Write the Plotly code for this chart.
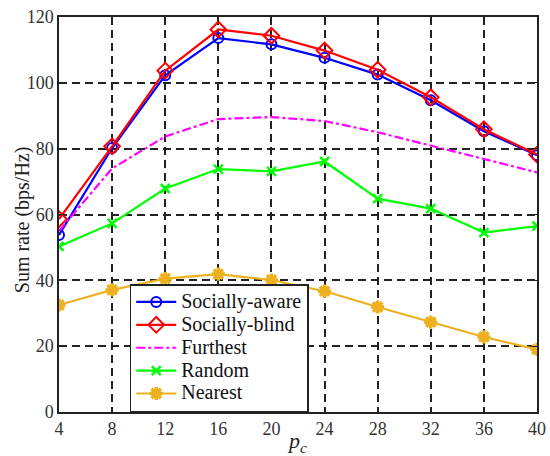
import plotly.graph_objects as go

pc = [4, 8, 12, 16, 20, 24, 28, 32, 36, 40]
socially_aware = [53.8, 80.2, 102.3, 113.6, 111.7, 107.6, 102.5, 94.7, 85.3, 78.0]
socially_blind = [58.6, 80.7, 103.7, 116.2, 114.3, 109.8, 104.0, 95.6, 85.9, 78.2]
furthest = [55.0, 74.0, 83.7, 89.0, 89.6, 88.4, 85.0, 81.0, 77.0, 72.8]
random_ = [50.3, 57.3, 67.9, 73.8, 73.1, 76.1, 64.8, 61.8, 54.5, 56.5]
nearest = [32.5, 37.1, 40.5, 41.9, 40.1, 36.7, 31.9, 27.3, 22.8, 19.0]

xticks = [4, 8, 12, 16, 20, 24, 28, 32, 36, 40]
yticks = [0, 20, 40, 60, 80, 100, 120]

font = "Times New Roman, Liberation Serif, DejaVu Serif, serif"


def lg(name):
    return "<span style='font-size:20px'>" + name + "</span>"


fig = go.Figure()
fig.add_trace(go.Scatter(x=pc, y=socially_aware, name=lg("Socially-aware"), mode="lines+markers",
                         line=dict(color="#0000FF", width=2.2),
                         marker=dict(symbol="circle-open", size=10, line=dict(width=2, color="#0000FF"))))
fig.add_trace(go.Scatter(x=pc, y=socially_blind, name=lg("Socially-blind"), mode="lines+markers",
                         line=dict(color="#FF0000", width=2.2),
                         marker=dict(symbol="diamond-open", size=12, line=dict(width=2, color="#FF0000"))))
fig.add_trace(go.Scatter(x=pc, y=furthest, name=lg("Furthest"), mode="lines",
                         line=dict(color="#FF00FF", width=2.2, dash="dashdot")))
fig.add_trace(go.Scatter(x=pc, y=random_, name=lg("Random"), mode="lines+markers",
                         line=dict(color="#00FF00", width=2.2),
                         marker=dict(symbol="x-thin-open", size=9, line=dict(width=2.5, color="#00FF00"))))
fig.add_trace(go.Scatter(x=pc, y=nearest, name=lg("Nearest"), mode="lines+markers",
                         line=dict(color="#EDB120", width=2.2),
                         marker=dict(symbol="asterisk-open", size=11, line=dict(width=3.5, color="#EDB120"))))

axis_common = dict(showline=True, mirror="ticks", linecolor="#222222", linewidth=1.5,
                   showgrid=True, gridcolor="#222222", griddash="8px,5px", gridwidth=1.5,
                   ticks="inside", ticklen=5, tickcolor="#222222", zeroline=False,
                   automargin=False,
                   tickfont=dict(family=font, size=18, color="#333333"))

fig.update_xaxes(range=[4, 40], tickvals=xticks, **axis_common,
                 title=dict(text="<i>p</i><sub><i>c</i></sub>", font=dict(family=font, size=22, color="#222222"), standoff=0))
fig.update_yaxes(range=[0, 120], tickvals=yticks, **axis_common)

fig.add_annotation(text="Sum rate (bps/Hz)", textangle=-90, showarrow=False,
                   xref="paper", yref="paper", x=-0.077, y=0.486,
                   xanchor="center", yanchor="middle",
                   font=dict(family=font, size=20, color="#222222"))

fig.update_layout(
    width=550, height=456,
    margin=dict(l=59, r=13, t=17, b=44, autoexpand=False),
    plot_bgcolor="white", paper_bgcolor="white",
    font=dict(family=font),
    legend=dict(x=0.148, y=0, xanchor="left", yanchor="bottom",
                bgcolor="white", bordercolor="#222222", borderwidth=1.5,
                font=dict(family=font, size=15.3, color="#111111"),
                tracegroupgap=0, itemwidth=40),
)

fig.write_html("out.html")
